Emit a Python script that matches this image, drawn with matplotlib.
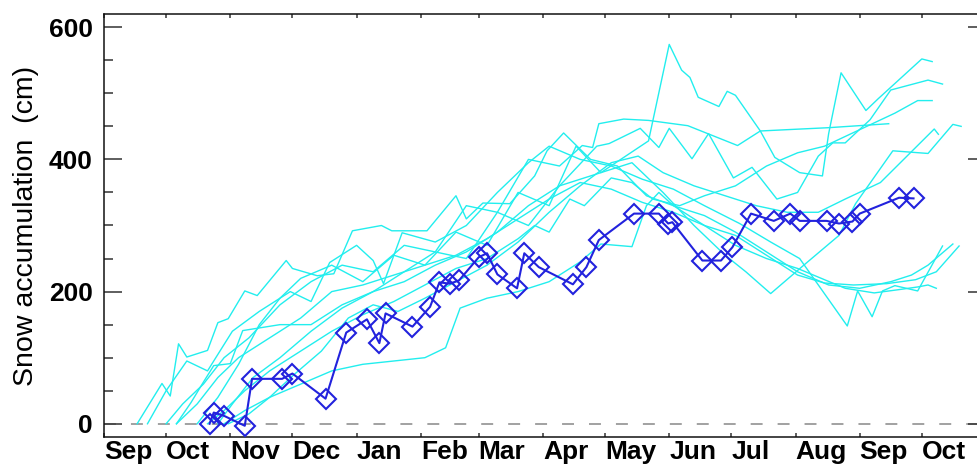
import matplotlib
matplotlib.use("Agg")
import matplotlib.pyplot as plt
import numpy as np

plt.rcParams['font.family'] = ['Liberation Sans', 'DejaVu Sans']
plt.rcParams['lines.scale_dashes'] = False

# x axis: days since 1 September of the first season
month_starts = [0, 30, 61, 91, 122, 153, 181, 212, 242, 273, 303, 334, 365, 395]
month_labels = ["Sep", "Oct", "Nov", "Dec", "Jan", "Feb", "Mar", "Apr", "May",
                "Jun", "Jul", "Aug", "Sep", "Oct"]

# highlighted season (blue diamonds)
main_days = [51, 53, 58, 68, 71.5, 86, 91, 107, 117, 127, 133, 136, 149, 157.5,
             162, 167, 171.5, 181, 185, 190, 199.5, 203, 210, 226.5, 233, 239,
             256, 268, 272.5, 274.5, 289, 298, 303.5, 312.5, 323.5, 331.5, 336,
             349, 355, 361.5, 365, 384, 391]
main_vals = [0, 17, 12, -3, 68, 68, 76, 38, 138, 158, 122, 167, 147, 177,
             214, 212, 217, 252, 258, 226, 205, 258, 237, 211, 237, 278,
             318, 318, 303, 305, 247, 247, 267, 318, 307, 318, 307,
             307, 303, 306, 318, 342, 341]

# other seasons (cyan)
s1_days = [16, 28, 32, 36, 40, 50, 55, 60, 68, 74, 88, 91, 103, 111, 120, 134, 139, 156, 170, 175, 183, 196, 208, 214, 222, 235, 248, 262, 275, 290, 305, 320, 335, 348, 358, 372, 384, 393, 398, 402]
s1_vals = [0, 61, 42, 121, 101, 111, 153, 159, 201, 194, 247, 235, 224, 227, 292, 300, 292, 292, 345, 310, 334, 333, 375, 413, 440, 400, 390, 345, 330, 300, 270, 250, 235, 218, 205, 198, 203, 207, 210, 205]
s2_days = [21, 30, 40, 50, 62, 75, 90, 100, 109, 122, 130, 135, 144, 160, 175, 190, 205, 215, 230, 245, 260, 275, 290, 307, 322, 336, 359, 364, 371, 376, 382, 393, 405]
s2_vals = [0, 50, 95, 80, 140, 170, 200, 185, 244, 270, 247, 212, 289, 275, 300, 350, 395, 420, 400, 390, 370, 355, 330, 303, 275, 250, 148, 201, 162, 201, 209, 201, 269]
s3_days = [45, 55, 65, 75, 85, 95, 110, 125, 140, 155, 170, 185, 200, 215, 228, 240, 255, 270, 285, 300, 310, 322, 338, 355, 363, 381, 398, 410, 414]
s3_vals = [0, 40, 90, 150, 190, 220, 240, 215, 255, 240, 290, 270, 350, 330, 420, 380, 395, 350, 300, 255, 230, 197, 240, 285, 333, 413, 409, 453, 450]
s4_days = [30, 38, 48, 58, 70, 85, 100, 115, 130, 145, 160, 175, 190, 205, 220, 231, 236, 239, 251, 263, 282, 306, 317, 330, 350, 379]
s4_vals = [0, 30, 60, 100, 130, 180, 215, 240, 230, 270, 260, 330, 320, 400, 390, 421, 418, 454, 461, 459, 451, 421, 443, 445, 448, 454]
s5_days = [55, 62, 72, 85, 100, 115, 130, 145, 160, 175, 190, 205, 220, 240, 263, 273, 279, 283, 287, 297, 301, 305, 317, 324, 336, 347, 350, 356, 368, 374, 395, 400]
s5_vals = [0, 30, 70, 100, 140, 175, 200, 230, 260, 250, 320, 300, 360, 380, 428, 574, 535, 524, 494, 480, 503, 497, 443, 403, 380, 375, 439, 531, 474, 492, 552, 548]
s6_days = [35, 42, 48, 53, 61, 67, 75, 85, 100, 115, 130, 145, 160, 175, 190, 205, 220, 238, 244, 259, 268, 273, 284, 292, 304, 313, 325, 335, 345, 352, 358, 370, 380, 398, 405]
s6_vals = [0, 32, 63, 88, 91, 141, 145, 150, 150, 180, 200, 215, 240, 260, 290, 330, 360, 420, 424, 447, 418, 447, 401, 439, 372, 388, 340, 350, 405, 425, 425, 460, 505, 520, 514]
s7_days = [50, 58, 68, 80, 95, 110, 125, 140, 155, 170, 185, 200, 208, 215, 225, 232, 245, 255, 265, 278, 290, 305, 320, 335, 348, 365, 382, 393, 400]
s7_vals = [0, 20, 50, 80, 110, 140, 165, 185, 210, 235, 250, 280, 300, 290, 340, 330, 372, 365, 340, 330, 345, 360, 390, 410, 420, 445, 470, 489, 489]
s8_days = [58, 68, 80, 95, 110, 125, 140, 155, 165, 172, 185, 200, 215, 230, 240, 255, 262, 268, 275, 290, 305, 320, 335, 350, 365, 380, 390, 398, 410]
s8_vals = [0, 20, 40, 60, 80, 90, 95, 100, 115, 175, 190, 200, 215, 245, 272, 268, 330, 350, 330, 315, 290, 260, 230, 210, 205, 215, 225, 240, 272]
s9_days = [35, 45, 55, 65, 80, 95, 110, 125, 140, 155, 170, 185, 200, 215, 230, 245, 260, 275, 290, 305, 320, 335, 348, 362, 378, 392, 402, 413]
s9_vals = [0, 30, 70, 100, 130, 160, 200, 210, 225, 240, 255, 280, 310, 340, 365, 355, 335, 320, 300, 285, 255, 225, 213, 210, 212, 218, 230, 269]
s10_days = [60, 70, 80, 92, 105, 118, 130, 142, 155, 170, 185, 200, 215, 230, 245, 258, 270, 285, 300, 315, 330, 345, 358, 375, 401, 403]
s10_vals = [0, 15, 40, 75, 110, 160, 180, 170, 190, 215, 240, 275, 320, 360, 395, 405, 380, 360, 345, 330, 320, 320, 340, 365, 446, 438]

other_days = [s1_days, s2_days, s3_days, s4_days, s5_days, s6_days, s7_days, s8_days, s9_days, s10_days]
other_vals = [s1_vals, s2_vals, s3_vals, s4_vals, s5_vals, s6_vals, s7_vals, s8_vals, s9_vals, s10_vals]

W, H = 977, 468
fig = plt.figure(figsize=(W / 100, H / 100), dpi=100)
ax = fig.add_axes([104 / W, 31 / H, 882 / W, 423 / H])

ax.axhline(0, color='#888888', lw=1.1, ls=(0, (8.6, 10.8)), zorder=1)

for d, v in zip(other_days, other_vals):
    ax.plot(d, v, color='#22eeee', lw=1.0, zorder=2)

ax.plot(main_days, main_vals, color='#2222dd', lw=1.5, marker='D', ms=10,
        mfc='none', mec='#2222dd', mew=1.5, zorder=3)

ax.set_xlim(0, 426)
ax.set_ylim(-20, 620)

ax.set_xticks(month_starts)
ax.set_xticklabels(month_labels, ha='left', fontsize=19, fontweight='bold')
ax.tick_params(axis='x', which='major', direction='in', length=3, width=1.1,
               top=True, bottom=True, pad=2.5, color='#333333')

ax.set_yticks([0, 200, 400, 600])
ax.set_yticks(np.arange(0, 601, 50), minor=True)
ax.tick_params(axis='y', which='major', direction='in', length=13, width=1.1,
               left=True, right=True, pad=8, labelsize=19, color='#333333')
ax.tick_params(axis='y', which='minor', direction='in', length=6.5, width=1.1,
               left=True, right=True, color='#333333')
for lab in ax.get_yticklabels():
    lab.set_fontweight('bold')

ax.set_ylabel("Snow accumulation  (cm)", fontsize=20.5)
ax.yaxis.set_label_coords(-0.074, 0.5)

for sp in ax.spines.values():
    sp.set_linewidth(1.1)
    sp.set_color('#111111')

fig.savefig("out.png", dpi=100)
